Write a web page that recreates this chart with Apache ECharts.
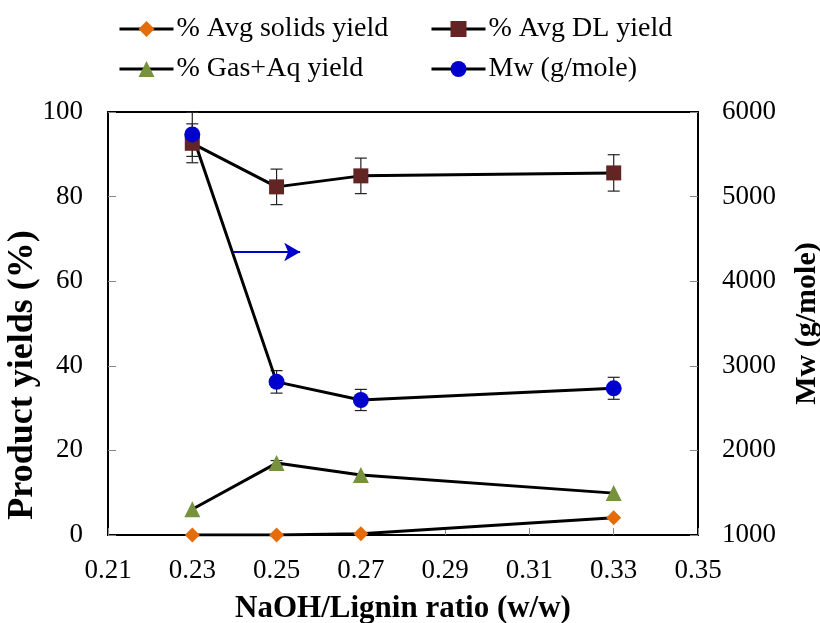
<!DOCTYPE html>
<html><head><meta charset="utf-8">
<script src="https://cdn.jsdelivr.net/npm/echarts@6/dist/echarts.min.js"></script>
<style>html,body{margin:0;padding:0;background:#fff}#c{width:820px;height:623px}</style>
</head><body><div id="c"></div>
<script>
const ratios = [0.23, 0.25, 0.27, 0.33];
const solidsYield = [0.0, 0.0, 0.3, 4.1];
const dlYield = [92.6, 82.3, 84.9, 85.6];
const dlErr = [4.6, 4.2, 4.2, 4.3];
const gasAqYield = [6.1, 17.0, 14.2, 9.9];
const gasAqErr = [0, 0.6, 0, 0];
const mwValues = [5735, 2810, 2596, 2734];
const mwErr = [260, 133, 125, 130];
const arrowStart = [0.2397, 4345];
const arrowEnd = [0.2556, 4345];

const FONT = '"Liberation Serif","Times New Roman",serif';
const names = ['% Avg solids yield', '% Avg DL yield', '% Gas+Aq yield', 'Mw (g/mole)'];

function pts(vals){ return ratios.map((x,i)=>[x, vals[i]]); }
function errData(vals, errs){ return ratios.map((x,i)=>[x, vals[i]-errs[i], vals[i]+errs[i]]).filter((d,i)=>errs[i]>0); }
function errSeries(vals, errs, yIdx){
  return {
    type:'custom', yAxisIndex:yIdx, silent:true, z:1,
    data: errData(vals, errs),
    renderItem: function(params, api){
      const lo = api.coord([api.value(0), api.value(1)]);
      const hi = api.coord([api.value(0), api.value(2)]);
      const w = 6;
      const st = {stroke:'#222', lineWidth:1.2};
      return {type:'group', children:[
        {type:'line', shape:{x1:lo[0], y1:lo[1], x2:hi[0], y2:hi[1]}, style:st},
        {type:'line', shape:{x1:lo[0]-w, y1:lo[1], x2:lo[0]+w, y2:lo[1]}, style:st},
        {type:'line', shape:{x1:hi[0]-w, y1:hi[1], x2:hi[0]+w, y2:hi[1]}, style:st}
      ]};
    }
  };
}
function lineSeries(name, vals, yIdx, symbol, size, color){
  return {
    name, type:'line', yAxisIndex:yIdx, data: pts(vals),
    symbol, symbolSize:size, showAllSymbol:true, z:3,
    lineStyle:{color:'#000', width:3},
    itemStyle:{color:color, opacity:1},
    emphasis:{disabled:true}
  };
}
const chart = echarts.init(document.getElementById('c'), null, {renderer:'canvas'});
const legendCommon = {orient:'horizontal', itemWidth:54, itemHeight:20, itemGap:10, padding:0,
  lineStyle:{width:3, color:'#000'},
  textStyle:{fontFamily:FONT, fontSize:28, color:'#000', padding:[0,0,0,-2]}, selectedMode:false};
chart.setOption({
  animation:false,
  backgroundColor:'#fff',
  legend:[
    Object.assign({data:[names[0]], left:118, top:15}, legendCommon),
    Object.assign({data:[names[1]], left:430, top:15}, legendCommon),
    Object.assign({data:[names[2]], left:118, top:55}, legendCommon),
    Object.assign({data:[names[3]], left:430, top:55}, legendCommon)
  ],
  graphic:[{
    type:'text', x:23, y:375, rotation:Math.PI/2,
    style:{text:'Product yields (%)', fontFamily:FONT, fontSize:36, fontWeight:'bold', fill:'#000',
      textAlign:'center', textVerticalAlign:'middle'}
  }],
  grid:{left:108, right:122, top:112, bottom:88, outerBoundsMode:'none', containLabel:false,
    show:true, borderColor:'#000', borderWidth:2, backgroundColor:'#fff'},
  xAxis:{
    type:'value', min:0.21, max:0.35, interval:0.02,
    name:'NaOH/Lignin ratio (w/w)', nameLocation:'middle', nameGap:58,
    nameTextStyle:{fontFamily:FONT, fontSize:31, fontWeight:'bold', color:'#000'},
    axisLine:{show:true, lineStyle:{color:'#000', width:2}},
    axisTick:{show:true, inside:true, length:7, lineStyle:{color:'#888'}},
    axisLabel:{fontFamily:FONT, fontSize:27, color:'#000', margin:22, formatter:v=>(+v).toFixed(2)},
    splitLine:{show:false}
  },
  yAxis:[
    {type:'value', min:0, max:100, interval:20, position:'left',
     axisLine:{show:true, lineStyle:{color:'#000', width:2}},
     axisTick:{show:true, inside:true, length:8, lineStyle:{color:'#888'}},
     axisLabel:{fontFamily:FONT, fontSize:27, color:'#000', margin:25},
     splitLine:{show:false}},
    {type:'value', min:1000, max:6000, interval:1000, position:'right',
     name:'Mw (g/mole)', nameLocation:'middle', nameGap:94, nameRotate:90,
     nameTextStyle:{fontFamily:FONT, fontSize:30, fontWeight:'bold', color:'#000'},
     axisLine:{show:true, lineStyle:{color:'#000', width:2}},
     axisTick:{show:true, inside:true, length:8, lineStyle:{color:'#888'}},
     axisLabel:{fontFamily:FONT, fontSize:27, color:'#000', margin:24, formatter:v=>String(v)},
     splitLine:{show:false}}
  ],
  series:[
    errSeries(dlYield, dlErr, 0),
    errSeries(gasAqYield, gasAqErr, 0),
    errSeries(mwValues, mwErr, 1),
    lineSeries(names[0], solidsYield, 0, 'diamond', 15, '#E46C0A'),
    lineSeries(names[1], dlYield, 0, 'rect', 15, '#632523'),
    lineSeries(names[2], gasAqYield, 0, 'triangle', 16, '#76923C'),
    Object.assign(lineSeries(names[3], mwValues, 1, 'circle', 16, '#0000CC'), {
      markLine:{silent:true, symbol:['none','arrow'], symbolSize:[14,16],
        lineStyle:{color:'#0000CC', width:2, type:'solid'}, label:{show:false},
        data:[[{coord:arrowStart}, {coord:arrowEnd}]]}
    })
  ]
});
</script></body></html>
